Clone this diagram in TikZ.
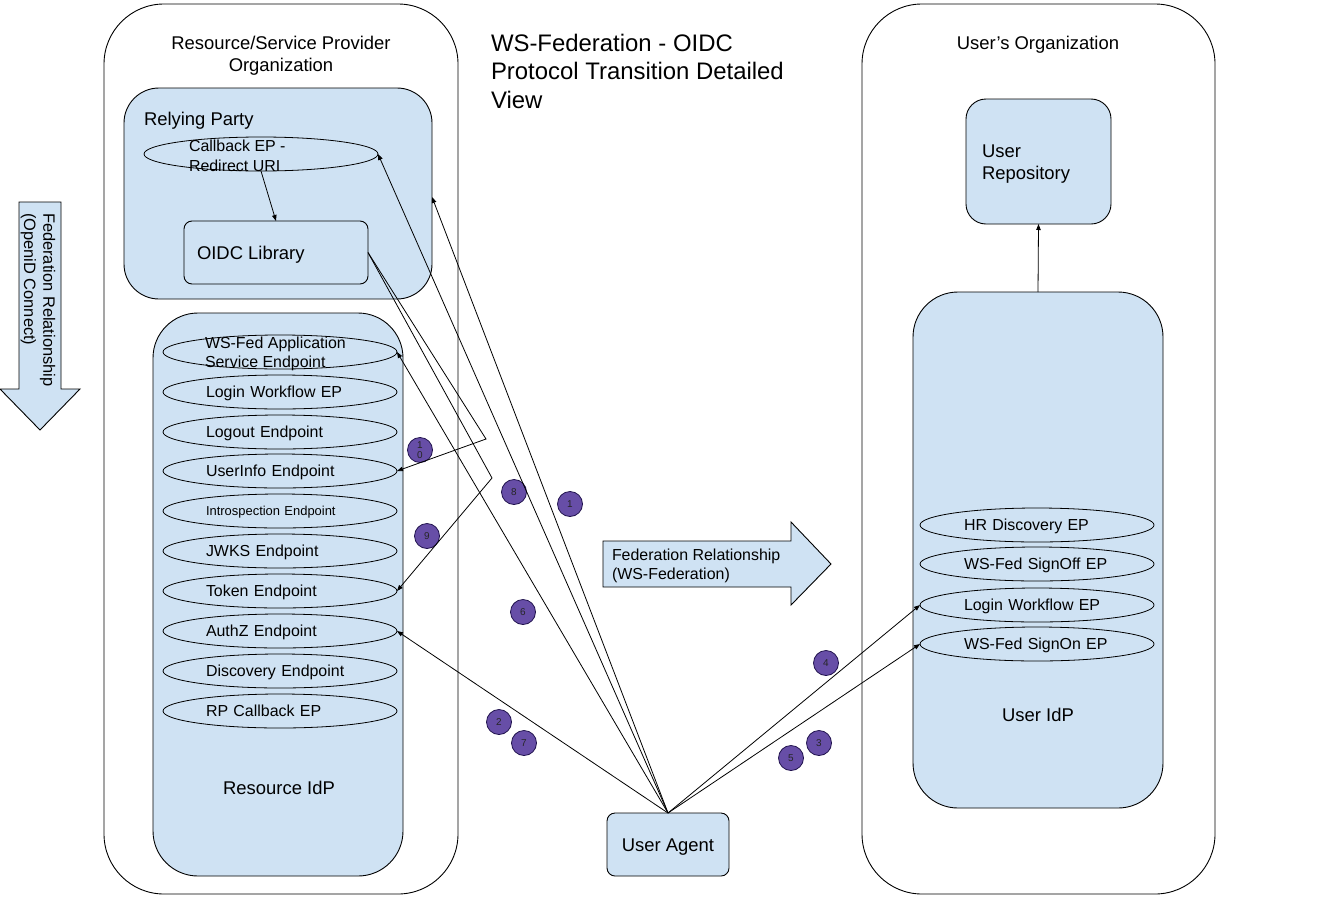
\documentclass[tikz,border=0pt]{standalone}
\usepackage{fontspec}
\setmainfont{Liberation Sans}
\usetikzlibrary{shapes.geometric,arrows.meta}
\definecolor{lb}{HTML}{CFE2F3}
\definecolor{pur}{HTML}{674EA7}
\definecolor{purd}{HTML}{20124D}
\begin{document}
\begin{tikzpicture}[x=1bp,y=-1bp,
  every node/.style={inner sep=0pt, outer sep=0pt},
  t16/.style={font=\fontsize{16}{19.5}\selectfont},
  t18/.style={font=\fontsize{18.5}{22}\selectfont},
  t24/.style={font=\fontsize{24}{28.5}\selectfont},
  orgbox/.style={draw, fill=white, rounded corners=60bp, line width=0.9bp},
  bluebox/.style={draw, fill=lb, line width=0.9bp},
  ep/.style={ellipse, draw, fill=lb, minimum width=234bp, minimum height=34bp, text width=148bp, text height=11.4bp, text depth=0bp, align=left, t16, line width=0.8bp},
  num/.style={circle, draw=purd, fill=pur, minimum size=25bp, font=\fontsize{10}{10}\selectfont, text=black!85, line width=0.8bp, align=center},
  conn/.style={line width=0.8bp, -{Triangle[length=6bp,width=4.5bp]}},
]
\useasboundingbox (0,0) rectangle (1337,908);
\fill[white] (0,0) rectangle (1337,908);

% organisations
\node[orgbox, minimum width=354bp, minimum height=890bp] (lorg) at (281,449) {};
\node[orgbox, minimum width=353bp, minimum height=890bp] (rorg) at (1038.5,449) {};
\node[t18, align=center] (lorgt) at (281,56) {Resource/Service Provider\\Organization};
\node[t18] (rorgt) at (1038,45) {User’s Organization};

% title
\node[t24, align=left, anchor=north west] (title) at (491,34) {WS-Federation - OIDC\\Protocol Transition Detailed\\View};

% relying party
\node[bluebox, rounded corners=35bp, minimum width=308bp, minimum height=211bp] (rp) at (278,193.5) {};
\node[t18, anchor=west] (rpt) at (144,121) {Relying Party};
\node[ellipse, draw, fill=lb, minimum width=234bp, minimum height=34bp, line width=0.8bp] (cb) at (261,154) {};
\node[t16, align=left, anchor=west] (cbt) at (189,156) {Callback EP -\\Redirect URI};
\node[bluebox, rounded corners=8bp, minimum width=184bp, minimum height=63bp] (oidc) at (276,252.5) {};
\node[t18, anchor=west] (oidct) at (197,255) {OIDC Library};

% resource idp
\node[bluebox, rounded corners=45bp, minimum width=250bp, minimum height=563bp] (ridp) at (278,594.5) {};
\node[ellipse, draw, fill=lb, minimum width=234bp, minimum height=34bp, line width=0.8bp] (wsfed) at (280,352) {};
\node[t16, align=left, anchor=west] (wsfedt) at (205,354) {WS-Fed Application\\Service Endpoint};
\node[ep] (llogin) at (280,392) {Login Workflow EP};
\node[ep] (logout) at (280,432) {Logout Endpoint};
\node[ep] (userinfo) at (280,471) {UserInfo Endpoint};
\node[ep, font=\fontsize{13}{15}\selectfont, text height=9.3bp] (intro) at (280,511) {Introspection Endpoint};
\node[ep] (jwks) at (280,551) {JWKS Endpoint};
\node[ep] (token) at (280,591) {Token Endpoint};
\node[ep] (authz) at (280,631) {AuthZ Endpoint};
\node[ep] (disc) at (280,671) {Discovery Endpoint};
\node[ep] (rpcb) at (280,711) {RP Callback EP};
\node[t18] (ridpt) at (279,788) {Resource IdP};

% user organisation
\node[bluebox, rounded corners=20bp, minimum width=145bp, minimum height=125bp] (urepo) at (1038.5,161.5) {};
\node[t18, align=left, anchor=west] (urepot) at (982,164) {User\\Repository};
\node[bluebox, rounded corners=45bp, minimum width=250bp, minimum height=516bp] (uidp) at (1038,550) {};
\node[ep, text width=146bp] (hrd) at (1037,525) {HR Discovery EP};
\node[ep, text width=146bp] (signoff) at (1037,564) {WS-Fed SignOff EP};
\node[ep, text width=146bp] (rlogin) at (1037,605) {Login Workflow EP};
\node[ep, text width=146bp] (rsignon) at (1037,644) {WS-Fed SignOn EP};
\node[t18] (uidpt) at (1038,715) {User IdP};

% user agent
\node[bluebox, rounded corners=8bp, minimum width=122bp, minimum height=63bp, t18, text height=14bp, text depth=0bp] (ua) at (668,844.5) {User Agent};

% federation arrows
\draw[fill=lb, line width=0.9bp] (603,541) -- (791,541) -- (791,522) -- (831,564) -- (791,605) -- (791,587) -- (603,587) -- cycle;
\node[t16, align=left, anchor=west] (fedws) at (612,566) {Federation Relationship\\(WS-Federation)};
\draw[fill=lb, line width=0.9bp] (19,202) -- (61,202) -- (61,389) -- (80,389) -- (40,430) -- (0,389) -- (19,389) -- cycle;
\node[font=\fontsize{16.5}{19.5}\selectfont, align=left, anchor=west, rotate=-90] (fedoidc) at (38,213) {Federation Relationship\\(OpeniD Connect)};

% step numbers
\node[num] (s10) at (420,450) {1\\0};
\node[num] (s8) at (514,492) {8};
\node[num] (s1) at (570,504) {1};
\node[num] (s9) at (427,536) {9};
\node[num] (s6) at (523,612) {6};
\node[num] (s2) at (499,722) {2};
\node[num] (s7) at (524,743) {7};
\node[num] (s4) at (826,663) {4};
\node[num] (s3) at (819,743) {3};
\node[num] (s5) at (791,758) {5};

% connectors
\coordinate (b1) at (486,439);
\coordinate (b2) at (492,478);
\draw[conn] (cb.south) -- (oidc.north);
\draw[conn] (ua.north) -- (cb.east);
\draw[conn] (ua.north) -- ([yshift=-3.5bp]rp.east);
\draw[conn] (ua.north) -- (wsfed.east);
\draw[conn] (ua.north) -- (authz.east);
\draw[conn] (ua.north) -- (rlogin.west);
\draw[conn] (ua.north) -- (rsignon.west);
\draw[conn] (oidc.east) -- (b1) -- (userinfo.east);
\draw[conn] (oidc.east) -- (b2) -- (token.east);
\draw[conn] (uidp.north) -- (urepo.south);
\end{tikzpicture}
\end{document}
